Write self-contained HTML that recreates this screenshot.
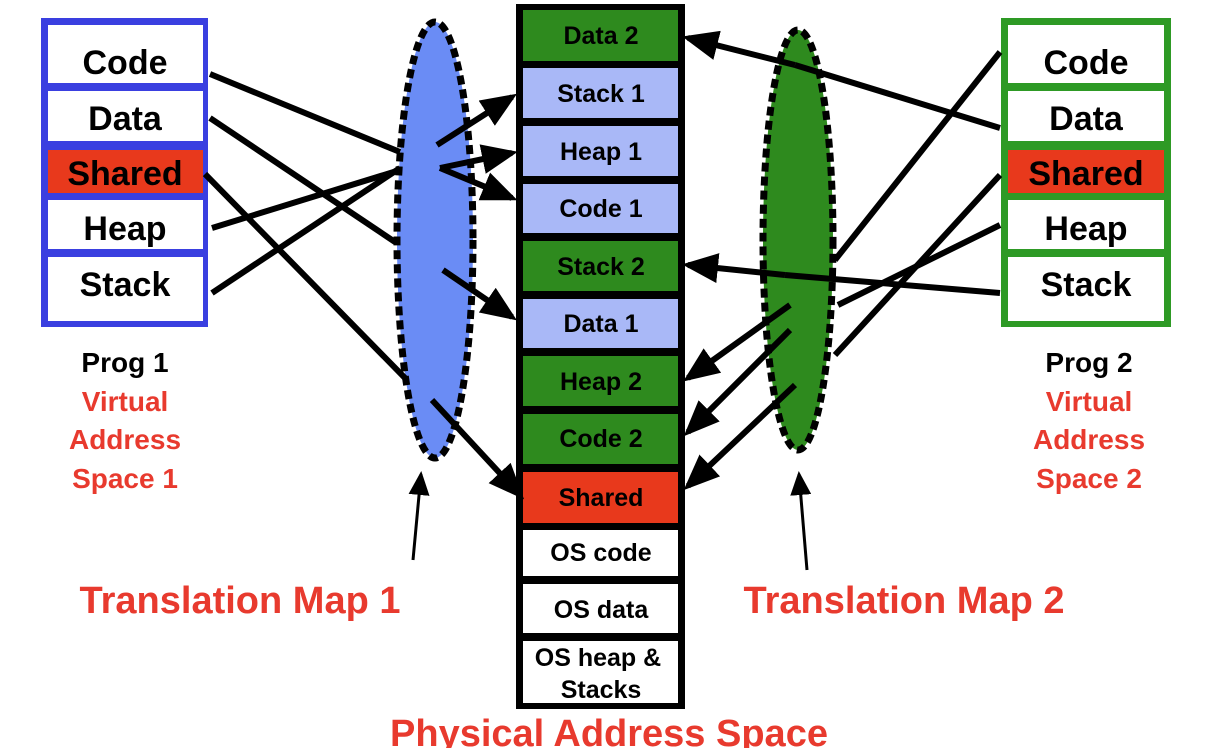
<!DOCTYPE html>
<html><head><meta charset="utf-8"><style>
html,body{margin:0;padding:0;background:#fff;}
svg{display:block;font-family:"Liberation Sans",Arial,sans-serif;font-weight:bold;}
</style></head><body>
<svg width="1218" height="748" viewBox="0 0 1218 748">
<defs>
<marker id="ah" markerWidth="6" markerHeight="5" refX="5" refY="2.5" orient="auto" markerUnits="strokeWidth"><path d="M0,0 L6,2.5 L0,5 z" fill="#000"/></marker>
<marker id="ah2" markerWidth="8" markerHeight="7" refX="7" refY="3.5" orient="auto" markerUnits="strokeWidth"><path d="M0,0 L8,3.5 L0,7 z" fill="#000"/></marker>
</defs>
<ellipse cx="435" cy="240" rx="38" ry="218" fill="#6a8cf5" stroke="#000" stroke-width="7" stroke-dasharray="9,5"/>
<ellipse cx="798" cy="240" rx="35" ry="210" fill="#2e8a1e" stroke="#000" stroke-width="7" stroke-dasharray="9,5"/>

<rect x="41" y="18" width="167" height="309" fill="#3a3fe0"/>
<g text-anchor="middle" font-size="34">
<rect x="48" y="25" width="155" height="58" fill="#fff"/><text x="125" y="74">Code</text>
<rect x="48" y="91" width="155" height="50" fill="#fff"/><text x="125" y="130">Data</text>
<rect x="48" y="150" width="155" height="43" fill="#e8391c"/><text x="125" y="185">Shared</text>
<rect x="48" y="200" width="155" height="49" fill="#fff"/><text x="125" y="240">Heap</text>
<rect x="48" y="257" width="155" height="64" fill="#fff"/><text x="125" y="296">Stack</text>
</g>
<rect x="1001" y="18" width="170" height="309" fill="#2e9a25"/>
<g text-anchor="middle" font-size="34">
<rect x="1008" y="25" width="156" height="58" fill="#fff"/><text x="1086" y="74">Code</text>
<rect x="1008" y="91" width="156" height="50" fill="#fff"/><text x="1086" y="130">Data</text>
<rect x="1008" y="150" width="156" height="43" fill="#e8391c"/><text x="1086" y="185">Shared</text>
<rect x="1008" y="200" width="156" height="49" fill="#fff"/><text x="1086" y="240">Heap</text>
<rect x="1008" y="257" width="156" height="64" fill="#fff"/><text x="1086" y="296">Stack</text>
</g>

<rect x="516" y="4" width="169" height="705" fill="#000"/>
<g text-anchor="middle" font-size="25">
<rect x="523" y="10" width="155" height="51" fill="#2e8a1e"/><text x="601" y="44">Data 2</text>
<rect x="523" y="68" width="155" height="50" fill="#a9b8f7"/><text x="601" y="102">Stack 1</text>
<rect x="523" y="126" width="155" height="50" fill="#a9b8f7"/><text x="601" y="160">Heap 1</text>
<rect x="523" y="184" width="155" height="49" fill="#a9b8f7"/><text x="601" y="217">Code 1</text>
<rect x="523" y="241" width="155" height="50" fill="#2e8a1e"/><text x="601" y="275">Stack 2</text>
<rect x="523" y="299" width="155" height="49" fill="#a9b8f7"/><text x="601" y="332">Data 1</text>
<rect x="523" y="356" width="155" height="50" fill="#2e8a1e"/><text x="601" y="390">Heap 2</text>
<rect x="523" y="414" width="155" height="50" fill="#2e8a1e"/><text x="601" y="447">Code 2</text>
<rect x="523" y="472" width="155" height="51" fill="#e8391c"/><text x="601" y="506">Shared</text>
<rect x="523" y="530" width="155" height="46" fill="#fff"/><text x="601" y="561">OS code</text>
<rect x="523" y="584" width="155" height="49" fill="#fff"/><text x="601" y="618">OS data</text>
<rect x="523" y="641" width="155" height="62" fill="#fff"/><text x="598" y="666">OS heap &amp;</text><text x="601" y="698">Stacks</text>
</g>

<g stroke="#000" stroke-width="6" fill="none">
<line x1="210" y1="74" x2="400" y2="152"/>
<line x1="210" y1="118" x2="395" y2="242"/>
<line x1="205" y1="174" x2="405" y2="378"/>
<line x1="212" y1="228" x2="400" y2="170"/>
<line x1="212" y1="293" x2="400" y2="168"/>
<line x1="437" y1="145" x2="512" y2="97" marker-end="url(#ah)"/>
<line x1="440" y1="168" x2="512" y2="153" marker-end="url(#ah)"/>
<line x1="440" y1="168" x2="512" y2="198" marker-end="url(#ah)"/>
<line x1="443" y1="270" x2="512" y2="317" marker-end="url(#ah)"/>
<line x1="432" y1="400" x2="520" y2="495" marker-end="url(#ah)"/>
<line x1="1000" y1="52" x2="835" y2="260"/>
<line x1="1000" y1="128" x2="795" y2="65"/>
<line x1="1000" y1="175" x2="835" y2="355"/>
<line x1="1000" y1="225" x2="838" y2="305"/>
<line x1="1000" y1="293" x2="785" y2="275"/>
<line x1="795" y1="65" x2="688" y2="38" marker-end="url(#ah)"/>
<line x1="785" y1="275" x2="688" y2="265" marker-end="url(#ah)"/>
<line x1="790" y1="305" x2="688" y2="378" marker-end="url(#ah)"/>
<line x1="790" y1="330" x2="688" y2="432" marker-end="url(#ah)"/>
<line x1="795" y1="385" x2="688" y2="486" marker-end="url(#ah)"/>
</g>
<g stroke="#000" stroke-width="3">
<line x1="413" y1="560" x2="421" y2="474" marker-end="url(#ah2)"/>
<line x1="807" y1="570" x2="799" y2="474" marker-end="url(#ah2)"/>
</g>

<g text-anchor="middle" font-size="28">
<text x="125" y="372" fill="#000">Prog 1</text>
<text x="125" y="411" fill="#e83a2e">Virtual</text>
<text x="125" y="449" fill="#e83a2e">Address</text>
<text x="125" y="488" fill="#e83a2e">Space 1</text>
<text x="1089" y="372" fill="#000">Prog 2</text>
<text x="1089" y="411" fill="#e83a2e">Virtual</text>
<text x="1089" y="449" fill="#e83a2e">Address</text>
<text x="1089" y="488" fill="#e83a2e">Space 2</text>
</g>
<g text-anchor="middle" font-size="38" fill="#e83a2e">
<text x="240" y="613">Translation Map 1</text>
<text x="904" y="613">Translation Map 2</text>
<text x="609" y="746">Physical Address Space</text>
</g>
</svg>
</body></html>
